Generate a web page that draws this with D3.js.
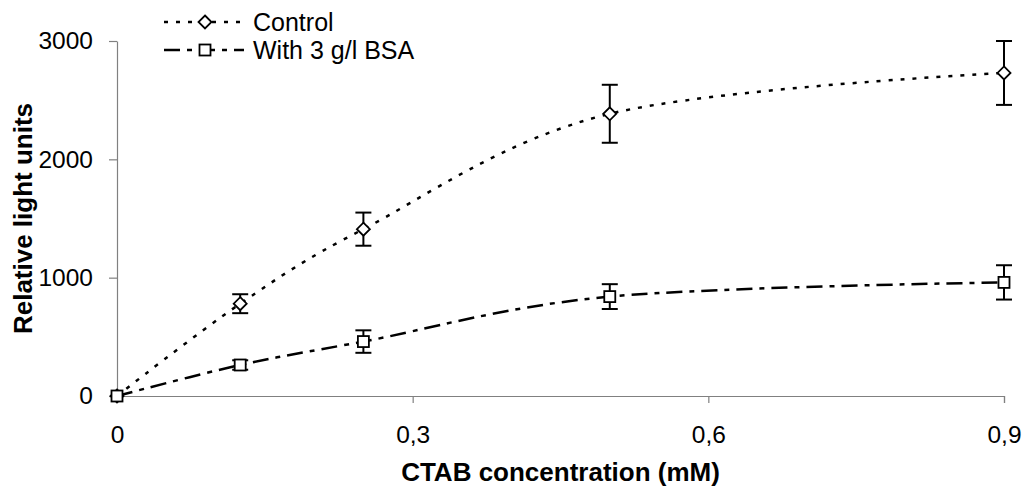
<!DOCTYPE html>
<html>
<head>
<meta charset="utf-8">
<script src="https://cdn.jsdelivr.net/npm/d3@7"></script>
<style>
  html, body { margin: 0; padding: 0; background: #fff; }
  svg { display: block; font-family: "Liberation Sans", Arial, sans-serif; }
</style>
</head>
<body>
<svg id="chart" width="1024" height="493"></svg>
<script>
// ---- data ----
const concentrations = [0, 0.125, 0.25, 0.5, 0.9];
const controlValues = [0, 780, 1410, 2385, 2730];
const controlErrors = [0, 80, 140, 245, 270];
const bsaValues = [0, 262, 460, 840, 960];
const bsaErrors = [0, 40, 95, 105, 145];
const xTickValues = [0, 0.3, 0.6, 0.9];
const yTickValues = [0, 1000, 2000, 3000];
const seriesNames = ["Control", "With 3 g/l BSA"];
const xTitle = "CTAB concentration (mM)";
const yTitle = "Relative light units";

// ---- layout ----
const svg = d3.select("#chart");
const pLeft = 117, pRight = 1004, pTop = 41, pBottom = 396;
const x = d3.scaleLinear().domain([0, 0.9]).range([pLeft, pRight]);
const y = d3.scaleLinear().domain([0, 3000]).range([pBottom, pTop]);

const fmtX = d => d === 0 ? "0" : d.toFixed(1).replace(".", ",");

// axes
const gx = svg.append("g").attr("transform", `translate(0,${pBottom})`)
  .call(d3.axisBottom(x).tickValues(xTickValues).tickFormat(fmtX)
        .tickSize(7).tickSizeOuter(7).tickPadding(23));
const gy = svg.append("g").attr("transform", `translate(${pLeft},0)`)
  .call(d3.axisLeft(y).tickValues(yTickValues).tickFormat(d3.format("d"))
        .tickSize(8).tickSizeOuter(0).tickPadding(16));
[gx, gy].forEach(g => {
  g.selectAll("path.domain").attr("stroke", "#808080").attr("stroke-width", 1.2);
  g.selectAll(".tick line").attr("stroke", "#808080").attr("stroke-width", 1.2);
  g.selectAll(".tick text").attr("fill", "#000").attr("font-size", 24.5)
    .attr("font-family", "'Liberation Sans', Arial, sans-serif");
});

// titles
svg.append("text").attr("x", (pLeft + pRight) / 2).attr("y", 481)
  .attr("text-anchor", "middle").attr("font-weight", "bold").attr("font-size", 26)
  .text(xTitle);
svg.append("text").attr("transform", `translate(32,${(pTop + pBottom) / 2}) rotate(-90)`)
  .attr("text-anchor", "middle").attr("font-weight", "bold").attr("font-size", 26)
  .text(yTitle);

const controlData = concentrations.map((c, i) => ({x: c, y: controlValues[i], e: controlErrors[i]}));
const bsaData = concentrations.map((c, i) => ({x: c, y: bsaValues[i], e: bsaErrors[i]}));

const line = d3.line().x(d => x(d.x)).y(d => y(d.y)).curve(d3.curveCardinal.tension(0));

const styles = [
  {data: controlData, dash: "4,8", marker: "diamond"},
  {data: bsaData, dash: "16,7,5,7", marker: "square"}
];

const diamond = (cx, cy, r) => `M${cx},${cy - r}L${cx + r},${cy}L${cx},${cy + r}L${cx - r},${cy}Z`;

function drawMarker(g, type, cx, cy) {
  if (type === "diamond") {
    g.append("path").attr("d", diamond(cx, cy, 6.5))
      .attr("fill", "#fff").attr("stroke", "#000").attr("stroke-width", 1.8);
  } else {
    g.append("rect").attr("x", cx - 5.5).attr("y", cy - 5.5).attr("width", 11).attr("height", 11)
      .attr("fill", "#fff").attr("stroke", "#000").attr("stroke-width", 1.8);
  }
}

styles.forEach(s => {
  svg.append("path").datum(s.data).attr("d", line)
    .attr("fill", "none").attr("stroke", "#000").attr("stroke-width", 2.5)
    .attr("stroke-dasharray", s.dash);
});

// error bars
styles.forEach(s => {
  const g = svg.append("g");
  s.data.filter(d => d.e > 0).forEach(d => {
    const cx = x(d.x), y1 = y(d.y + d.e), y2 = y(d.y - d.e);
    g.append("line").attr("x1", cx).attr("x2", cx).attr("y1", y1).attr("y2", y2)
      .attr("stroke", "#000").attr("stroke-width", 2);
    [y1, y2].forEach(yy => g.append("line").attr("x1", cx - 8).attr("x2", cx + 8)
      .attr("y1", yy).attr("y2", yy).attr("stroke", "#000").attr("stroke-width", 2));
  });
});

// markers (control first so BSA square overlaps at origin)
styles.forEach(s => {
  const g = svg.append("g");
  s.data.forEach(d => drawMarker(g, s.marker, x(d.x), y(d.y)));
});

// legend
const legendY = [22, 50];
styles.forEach((s, i) => {
  const g = svg.append("g");
  g.append("line").attr("x1", 164).attr("x2", 244).attr("y1", legendY[i]).attr("y2", legendY[i])
    .attr("stroke", "#000").attr("stroke-width", 2.5).attr("stroke-dasharray", s.dash);
  drawMarker(g, s.marker, 205, legendY[i]);
  g.append("text").attr("x", 253).attr("y", legendY[i] + 9).attr("font-size", 25)
    .text(seriesNames[i]);
});
</script>
</body>
</html>
